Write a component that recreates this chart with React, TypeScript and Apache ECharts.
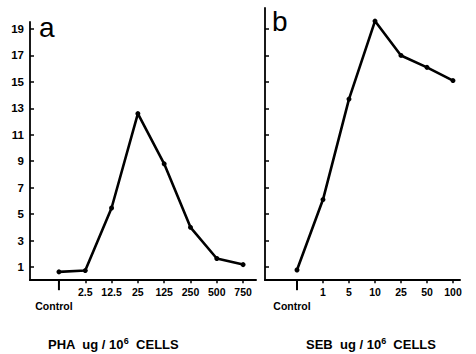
import React, { useEffect, useRef } from "react";
import * as echarts from "echarts";

const phaCategories = ["Control", "2.5", "12.5", "25", "125", "250", "500", "750"];
const phaValues = [0.63, 0.73, 5.46, 12.6, 8.8, 4.0, 1.64, 1.18];
const sebCategories = ["Control", "1", "5", "10", "25", "50", "100"];
const sebValues = [0.77, 6.1, 13.7, 19.6, 17.0, 16.1, 15.1];
const yTicks = [1, 3, 5, 7, 9, 11, 13, 15, 17, 19];
const panelLetters = ["a", "b"];

const FONT = "Liberation Sans";

function xAxisFor(gridIndex: number, cats: string[], min: number, max: number) {
  const idx = cats.map((_, i) => i);
  return {
    type: "value",
    gridIndex,
    min,
    max,
    splitLine: { show: false },
    axisLine: { show: true, onZero: false, lineStyle: { color: "#000", width: 2 } },
    axisTick: { show: true, customValues: idx, length: 3, lineStyle: { color: "#000", width: 1.5 } },
    axisLabel: {
      show: true,
      customValues: idx,
      margin: 6,
      color: "#000",
      fontFamily: FONT,
      fontWeight: "bold",
      fontSize: 10.5,
      formatter: (v: number) => {
        const i = Math.round(v);
        if (i === 0) return "{c|" + cats[0] + "}";
        return cats[i] ?? "";
      },
      rich: {
        c: {
          fontFamily: FONT,
          fontWeight: "bold",
          fontSize: 10.5,
          color: "#000",
          padding: [14, 10, 0, 0],
        },
      },
    },
  };
}

function yAxisFor(gridIndex: number, max: number, showLabels: boolean) {
  return {
    type: "value",
    gridIndex,
    min: 0,
    max,
    splitLine: { show: false },
    axisLine: { show: true, onZero: false, lineStyle: { color: "#000", width: 1.8 } },
    axisTick: { show: true, inside: true, customValues: yTicks, length: 4, lineStyle: { color: "#000", width: 1.5 } },
    axisLabel: {
      show: showLabels,
      customValues: yTicks,
      margin: 6,
      color: "#000",
      fontFamily: FONT,
      fontWeight: "bold",
      fontSize: 11.5,
    },
  };
}

function lineSeries(axisIndex: number, values: number[]) {
  return {
    type: "line",
    xAxisIndex: axisIndex,
    yAxisIndex: axisIndex,
    data: values.map((v, i) => [i, v]),
    symbol: "circle",
    symbolSize: 5,
    itemStyle: { color: "#000" },
    lineStyle: { color: "#000", width: 2.6 },
    silent: true,
    z: 3,
  };
}

function controlTick(axisIndex: number) {
  return {
    type: "scatter",
    xAxisIndex: axisIndex,
    yAxisIndex: axisIndex,
    data: [[0, 0]],
    symbol: "rect",
    symbolSize: [2, 10],
    symbolOffset: [0, 5],
    itemStyle: { color: "#000", opacity: 1 },
    clip: false,
    silent: true,
    z: 10,
  };
}

export default function App() {
  const ref = useRef<HTMLDivElement>(null);
  useEffect(() => {
    if (!ref.current) return;
    const chart = echarts.init(ref.current, undefined, { renderer: "svg" });
    const titleRich = {
      t: { fontFamily: FONT, fontSize: 13, fontWeight: "bold", color: "#000" },
      s: { fontFamily: FONT, fontSize: 9, fontWeight: "bold", color: "#000", verticalAlign: "top", padding: [0, 0, 7, 0] },
    };
    chart.setOption({
      animation: false,
      backgroundColor: "#fff",
      grid: [
        { left: 30, top: 22, width: 226, height: 258.2 },
        { left: 265, top: 8, width: 195, height: 272.2 },
      ],
      xAxis: [xAxisFor(0, phaCategories, -1.1, 7.49), xAxisFor(1, sebCategories, -1.23, 6.27)],
      yAxis: [yAxisFor(0, 19.53, true), yAxisFor(1, 20.59, false)],
      series: [
        lineSeries(0, phaValues),
        lineSeries(1, sebValues),
        controlTick(0),
        controlTick(1),
      ],
      graphic: [
        {
          type: "text",
          left: 39,
          top: 13,
          style: { text: panelLetters[0], fontFamily: FONT, fontSize: 28, fill: "#000" },
        },
        {
          type: "text",
          left: 272,
          top: 7,
          style: { text: panelLetters[1], fontFamily: FONT, fontSize: 28, fill: "#000" },
        },
        {
          type: "text",
          left: 48,
          top: 336,
          style: {
            text: "{t|PHA  ug / 10}{s|6}{t|  CELLS}",
            rich: titleRich,
          },
        },
        {
          type: "text",
          left: 306,
          top: 336,
          style: {
            text: "{t|SEB  ug / 10}{s|6}{t|  CELLS}",
            rich: titleRich,
          },
        },
      ],
    });
    return () => chart.dispose();
  }, []);
  return (
    <div
      ref={ref}
      style={{ position: "fixed", left: 0, top: 0, width: 476, height: 354 }}
    />
  );
}
